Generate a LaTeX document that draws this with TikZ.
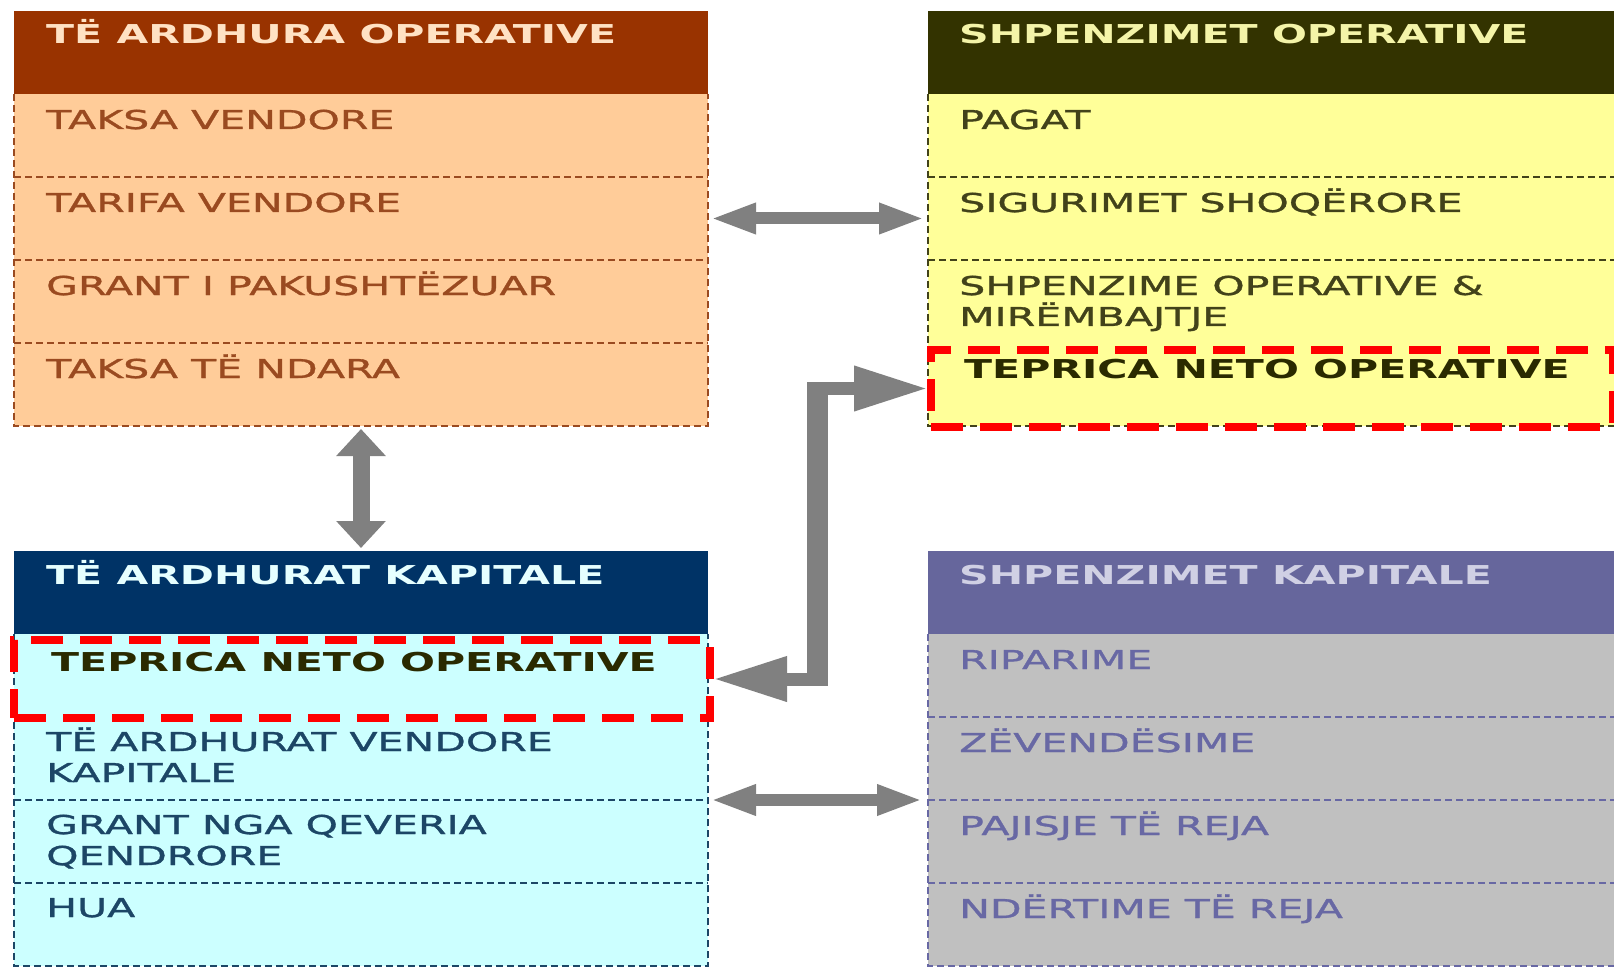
\documentclass[tikz,border=0pt]{standalone}
\usepackage{fontspec}
\usetikzlibrary{arrows.meta,calc}
\newfontfamily\boxfont[FakeStretch=1.58]{DejaVu Sans}
\newfontfamily\itemfont[FakeStretch=1.58,FakeBold=1.2]{DejaVu Sans}
\definecolor{tlhead}{HTML}{993300}
\definecolor{tlbody}{HTML}{FFCC99}
\definecolor{tltext}{HTML}{9A4A20}
\definecolor{tlhtext}{HTML}{FFE2C4}
\definecolor{trhead}{HTML}{333300}
\definecolor{trbody}{HTML}{FFFF99}
\definecolor{trtext}{HTML}{42421A}
\definecolor{trhtext}{HTML}{F4F4A8}
\definecolor{blhead}{HTML}{003366}
\definecolor{blbody}{HTML}{CCFFFF}
\definecolor{bltext}{HTML}{1C4666}
\definecolor{blhtext}{HTML}{E6FFFF}
\definecolor{brhead}{HTML}{66669C}
\definecolor{brbody}{HTML}{C0C0C0}
\definecolor{brtext}{HTML}{6868A4}
\definecolor{brhtext}{HTML}{D0D0E4}
\definecolor{arrowgray}{HTML}{808080}
\definecolor{teptext}{HTML}{2A2A00}
\begin{document}
\begin{tikzpicture}[x=1pt,y=-1pt,
  hdr/.style={rectangle, inner sep=0pt, outer sep=0pt, minimum width=694pt, minimum height=83pt, anchor=north west},
  rowbox/.style={rectangle, inner sep=0pt, outer sep=0pt, minimum width=694pt, minimum height=83pt, anchor=north},
  sepline/.style={dash pattern=on 7pt off 4pt, line width=1.6pt},
  item/.style={anchor=base west, inner sep=0pt, font=\itemfont\fontsize{26}{31}\selectfont, align=left},
  htext/.style={anchor=base west, inner sep=0pt, font=\boxfont\bfseries\fontsize{26}{31}\selectfont},
  teptxt/.style={anchor=base west, inner sep=0pt, text=teptext, font=\boxfont\bfseries\fontsize{26}{31}\selectfont},
  redbox/.style={rectangle, draw=red, line width=8pt, dash pattern=on 32pt off 17pt, inner sep=0pt, anchor=north west},
  garrow/.style={draw=arrowgray, line width=12pt, {Triangle[length=46pt,width=28pt]}-{Triangle[length=46pt,width=28pt]}},
  varrow/.style={draw=arrowgray, line width=17pt, {Triangle[length=27pt,width=48pt]}-{Triangle[length=27pt,width=48pt]}},
  earrow/.style={draw=arrowgray, line width=13pt, line join=miter, {Triangle[length=74pt,width=42pt]}-{Triangle[length=74pt,width=42pt]}}
]
\useasboundingbox (0,0) rectangle (1614,968);
\clip (0,0) rectangle (1614,968);
\fill[white] (0,0) rectangle (1614,968);

% ---------- top left: TE ARDHURA OPERATIVE ----------
\node[hdr, fill=tlhead] (tlh) at (14,11) {};
\node[rowbox, fill=tlbody] (tl1) at (tlh.south) {};
\node[rowbox, fill=tlbody] (tl2) at (tl1.south) {};
\node[rowbox, fill=tlbody] (tl3) at (tl2.south) {};
\node[rowbox, fill=tlbody] (tl4) at (tl3.south) {};
\draw[sepline, draw=tltext] (tl1.north west) -- (tl4.south west) -- (tl4.south east) -- (tl1.north east);
\draw[sepline, draw=tltext] (tl2.north west) -- (tl2.north east);
\draw[sepline, draw=tltext] (tl3.north west) -- (tl3.north east);
\draw[sepline, draw=tltext] (tl4.north west) -- (tl4.north east);
\node[htext, text=tlhtext] (tlht) at ($(tlh.north west)+(32,33)$) {TË ARDHURA OPERATIVE};
\node[item, text=tltext] (tl1t) at ($(tl1.north west)+(32,35)$) {TAKSA VENDORE};
\node[item, text=tltext] (tl2t) at ($(tl2.north west)+(32,35)$) {TARIFA VENDORE};
\node[item, text=tltext] (tl3t) at ($(tl3.north west)+(32,35)$) {GRANT I PAKUSHTËZUAR};
\node[item, text=tltext] (tl4t) at ($(tl4.north west)+(32,35)$) {TAKSA TË NDARA};

% ---------- top right: SHPENZIMET OPERATIVE ----------
\node[hdr, fill=trhead] (trh) at (928,11) {};
\node[rowbox, fill=trbody] (tr1) at (trh.south) {};
\node[rowbox, fill=trbody] (tr2) at (tr1.south) {};
\node[rowbox, fill=trbody] (tr3) at (tr2.south) {};
\node[rowbox, fill=trbody] (tr4) at (tr3.south) {};
\draw[sepline, draw=trtext] (tr1.north west) -- (tr4.south west) -- (tr4.south east) -- (tr1.north east);
\draw[sepline, draw=trtext] (tr2.north west) -- (tr2.north east);
\draw[sepline, draw=trtext] (tr3.north west) -- (tr3.north east);
\node[htext, text=trhtext] (trht) at ($(trh.north west)+(31,33)$) {SHPENZIMET OPERATIVE};
\node[item, text=trtext] (tr1t) at ($(tr1.north west)+(31,35)$) {PAGAT};
\node[item, text=trtext] (tr2t) at ($(tr2.north west)+(31,35)$) {SIGURIMET SHOQËRORE};
\node[item, text=trtext] (tr3t) at ($(tr3.north west)+(31,66)$) {SHPENZIME OPERATIVE \&\\MIRËMBAJTJE};
\node[teptxt] (tr4t) at ($(tr4.north west)+(36,35)$) {TEPRICA NETO OPERATIVE};
\node[redbox, minimum width=682pt, minimum height=77pt] (redTR) at (927,346) {};

% ---------- bottom left: TE ARDHURAT KAPITALE ----------
\node[hdr, fill=blhead] (blh) at (14,551) {};
\node[rowbox, fill=blbody] (bl1) at (blh.south) {};
\node[rowbox, fill=blbody] (bl2) at (bl1.south) {};
\node[rowbox, fill=blbody] (bl3) at (bl2.south) {};
\node[rowbox, fill=blbody] (bl4) at (bl3.south) {};
\draw[sepline, draw=bltext] (bl1.north west) -- (bl4.south west) -- (bl4.south east) -- (bl1.north east);
\draw[sepline, draw=bltext] (bl3.north west) -- (bl3.north east);
\draw[sepline, draw=bltext] (bl4.north west) -- (bl4.north east);
\node[htext, text=blhtext] (blht) at ($(blh.north west)+(32,33)$) {TË ARDHURAT KAPITALE};
\node[teptxt] (bl1t) at ($(bl1.north west)+(37,37)$) {TEPRICA NETO OPERATIVE};
\node[item, text=bltext] (bl2t) at ($(bl2.north west)+(32,65)$) {TË ARDHURAT VENDORE\\KAPITALE};
\node[item, text=bltext] (bl3t) at ($(bl3.north west)+(32,65)$) {GRANT NGA QEVERIA\\QENDRORE};
\node[item, text=bltext] (bl4t) at ($(bl4.north west)+(32,34)$) {HUA};
\node[redbox, minimum width=696pt, minimum height=78pt] (redBL) at (10,636) {};

% ---------- bottom right: SHPENZIMET KAPITALE ----------
\node[hdr, fill=brhead] (brh) at (928,551) {};
\node[rowbox, fill=brbody] (br1) at (brh.south) {};
\node[rowbox, fill=brbody] (br2) at (br1.south) {};
\node[rowbox, fill=brbody] (br3) at (br2.south) {};
\node[rowbox, fill=brbody] (br4) at (br3.south) {};
\draw[sepline, draw=brtext] (br1.north west) -- (br4.south west) -- (br4.south east) -- (br1.north east);
\draw[sepline, draw=brtext] (br2.north west) -- (br2.north east);
\draw[sepline, draw=brtext] (br3.north west) -- (br3.north east);
\draw[sepline, draw=brtext] (br4.north west) -- (br4.north east);
\node[htext, text=brhtext] (brht) at ($(brh.north west)+(31,33)$) {SHPENZIMET KAPITALE};
\node[item, text=brtext] (br1t) at ($(br1.north west)+(31,35)$) {RIPARIME};
\node[item, text=brtext] (br2t) at ($(br2.north west)+(31,35)$) {ZËVENDËSIME};
\node[item, text=brtext] (br3t) at ($(br3.north west)+(31,35)$) {PAJISJE TË REJA};
\node[item, text=brtext] (br4t) at ($(br4.north west)+(31,35)$) {NDËRTIME TË REJA};

% ---------- connectors ----------
\draw[garrow, shorten <=2pt, shorten >=3pt] (tl2.east) -- (tr2.west);
\draw[garrow, shorten <=2pt, shorten >=5pt] (bl3.north east) -- (br3.north west);
\draw[varrow, shorten <=3pt, shorten >=3pt] (tl4.south) -- (blh.north);
\coordinate (elb) at (817.5,0);
\draw[earrow, shorten <=-1pt, shorten >=-1pt] (redBL.east) -| (elb |- redTR.west) -- (redTR.west);
\fill[arrowgray] ($(elb |- redTR.west)+(-10.5,-6.5)$) rectangle ($(elb |- redBL.east)+(10.5,6.5)$);
\end{tikzpicture}
\end{document}
